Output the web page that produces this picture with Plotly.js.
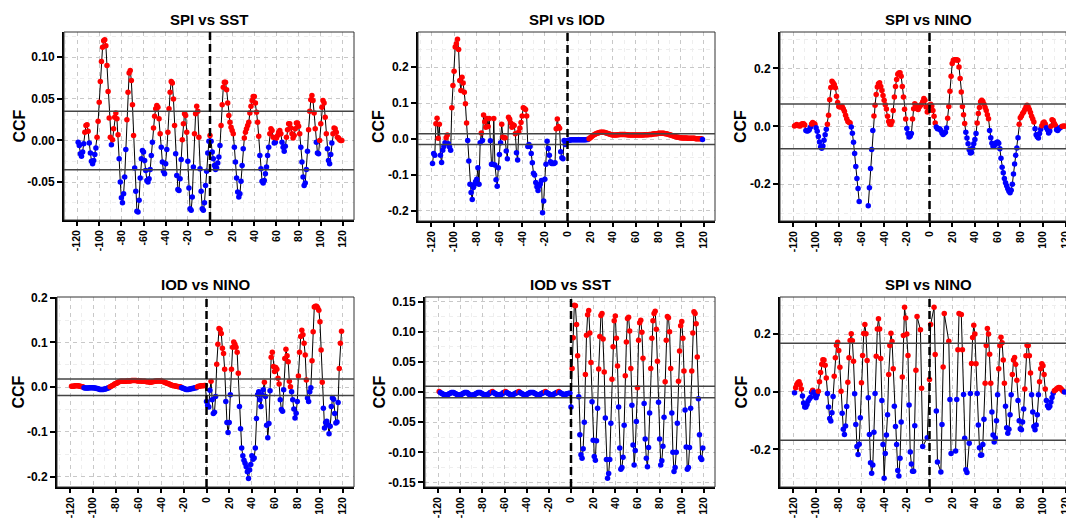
<!DOCTYPE html>
<html><head><meta charset="utf-8">
<script src="https://cdn.plot.ly/plotly-3.0.1.min.js"></script>
<style>html,body{margin:0;padding:0;overflow:hidden;background:#fff}#chart{width:1080px;height:519px}</style>
</head><body><div id="chart"></div>
<script>
// ---------------- DATA ----------------
const lags = []; for (let k = -119; k <= 119; k++) lags.push(k);
const panelTitles = ['SPI vs SST', 'SPI vs IOD', 'SPI vs NINO', 'IOD vs NINO', 'IOD vs SST', 'SPI vs NINO'];
const confLimits = [0.0352, 0.0148, 0.0775, 0.0185, 0.0094, 0.168];
const xTickVals = [-120, -100, -80, -60, -40, -20, 0, 20, 40, 60, 80, 100, 120];
const xTickText = ['-120', '-100', '-80', '-60', '-40', '-20', '0', '20', '40', '60', '80', '100', '120'];
const yTickVals = [
  [-0.05, 0, 0.05, 0.10],
  [-0.2, -0.1, 0, 0.1, 0.2],
  [-0.2, 0, 0.2],
  [-0.2, -0.1, 0, 0.1, 0.2],
  [-0.15, -0.10, -0.05, 0, 0.05, 0.10, 0.15],
  [-0.2, 0, 0.2]
];
const yTickText = [
  ['-0.05', '0.00', '0.05', '0.10'],
  ['-0.2', '-0.1', '0.0', '0.1', '0.2'],
  ['-0.2', '0.0', '0.2'],
  ['-0.2', '-0.1', '0.0', '0.1', '0.2'],
  ['-0.15', '-0.10', '-0.05', '0.00', '0.05', '0.10', '0.15'],
  ['-0.2', '0.0', '0.2']
];
const yMinorVals = [
  [-0.075, -0.025, 0.025, 0.075, 0.125],
  [-0.15, -0.05, 0.05, 0.15, 0.25],
  [-0.3, -0.1, 0.1, 0.3],
  [-0.15, -0.05, 0.05, 0.15],
  [-0.125, -0.075, -0.025, 0.025, 0.075, 0.125],
  [-0.3, -0.1, 0.1, 0.3]
];

const spiSst = [
-0.002,-0.006,-0.016,-0.019,-0.014,-0.004,0.010,0.018,0.019,0.011,
-0.003,-0.015,-0.025,-0.028,-0.024,-0.017,-0.009,0.004,0.023,0.046,
0.071,0.095,0.112,0.120,0.121,0.114,0.090,0.059,0.027,0.004,
-0.005,0.001,0.014,0.028,0.033,0.026,0.007,-0.022,-0.050,-0.069,
-0.075,-0.064,-0.044,-0.011,0.025,0.058,0.081,0.084,0.072,0.043,
0.006,-0.033,-0.061,-0.085,-0.086,-0.072,-0.045,-0.022,-0.012,-0.014,
-0.024,-0.036,-0.048,-0.050,-0.046,-0.035,-0.018,-0.002,0.015,0.029,
0.038,0.042,0.040,0.026,0.008,-0.008,-0.026,-0.037,-0.040,-0.028,
-0.011,0.010,0.038,0.058,0.071,0.069,0.050,0.018,-0.016,-0.042,
-0.059,-0.060,-0.046,-0.023,0.001,0.020,0.032,0.030,0.010,-0.025,
-0.057,-0.082,-0.084,-0.068,-0.032,0.008,0.032,0.041,0.035,0.004,
-0.034,-0.061,-0.082,-0.084,-0.075,-0.054,-0.037,-0.015,-0.001,0.006,
-0.001,-0.014,-0.022,-0.030,-0.035,-0.033,-0.027,-0.020,-0.006,0.018,
0.043,0.064,0.070,0.070,0.061,0.045,0.030,0.022,0.016,0.012,
0.008,-0.008,-0.026,-0.045,-0.062,-0.068,-0.064,-0.049,-0.030,-0.010,
0.003,0.010,0.014,0.018,0.022,0.033,0.041,0.048,0.053,0.053,
0.045,0.034,0.022,0.005,-0.018,-0.034,-0.049,-0.051,-0.048,-0.040,
-0.032,-0.018,-0.008,0.008,0.014,0.012,0.004,-0.003,-0.002,0.003,
0.006,0.010,0.012,0.008,-0.002,-0.008,-0.013,-0.007,0.004,0.013,
0.020,0.020,0.015,0.008,0.003,0.006,0.014,0.021,0.021,0.017,
0.008,-0.008,-0.026,-0.044,-0.054,-0.051,-0.035,-0.013,0.013,0.035,
0.049,0.054,0.048,0.033,0.014,-0.002,-0.015,-0.016,0.000,0.020,
0.040,0.048,0.045,0.028,0.008,-0.010,-0.024,-0.028,-0.017,-0.003,
0.008,0.015,0.014,0.010,0.004,0.003,0.001,0.000,0.000
];

const spiIod = [
-0.068,-0.040,-0.045,0.043,0.058,0.002,0.041,-0.045,-0.065,-0.031,
-0.021,-0.010,0.004,0.011,-0.013,-0.022,-0.031,0.087,0.149,0.189,
0.256,0.265,0.278,0.249,0.163,0.135,0.172,0.156,0.130,0.098,
0.045,-0.004,-0.061,-0.126,-0.149,-0.168,-0.135,-0.126,-0.118,-0.112,
-0.080,-0.126,-0.010,0.017,-0.004,0.067,0.048,0.033,0.057,0.035,
0.057,-0.005,-0.070,-0.070,0.057,-0.072,-0.113,-0.131,-0.080,-0.043,
-0.010,0.041,0.006,0.004,0.004,-0.033,-0.055,0.061,0.055,0.045,
0.033,0.040,0.038,0.015,-0.038,-0.058,0.020,0.031,0.046,0.064,
0.087,0.085,0.082,0.064,-0.021,-0.015,-0.021,-0.040,-0.066,-0.095,
-0.100,-0.121,-0.133,-0.143,-0.131,-0.125,-0.115,-0.205,-0.172,-0.112,
-0.070,-0.006,-0.026,-0.045,-0.063,-0.068,-0.068,-0.068,-0.066,0.029,
0.056,0.035,0.030,-0.035,-0.052,-0.055,-0.004,-0.015,-0.006,-0.004,
-0.003,-0.003,-0.002,-0.002,-0.002,-0.002,-0.002,-0.002,-0.002,-0.002,
-0.002,-0.002,-0.002,-0.002,-0.002,-0.002,-0.001,-0.001,0.001,0.004,
0.006,0.009,0.011,0.013,0.015,0.016,0.017,0.018,0.019,0.019,
0.019,0.019,0.018,0.017,0.016,0.015,0.014,0.013,0.012,0.011,
0.011,0.011,0.011,0.012,0.012,0.013,0.013,0.013,0.013,0.013,
0.013,0.012,0.012,0.011,0.011,0.011,0.011,0.011,0.011,0.011,
0.011,0.011,0.011,0.011,0.011,0.011,0.011,0.012,0.012,0.012,
0.012,0.013,0.013,0.013,0.014,0.014,0.015,0.015,0.015,0.016,
0.016,0.016,0.016,0.016,0.016,0.015,0.015,0.014,0.013,0.012,
0.011,0.010,0.009,0.008,0.007,0.006,0.005,0.005,0.004,0.004,
0.003,0.003,0.003,0.003,0.003,0.002,0.002,0.002,0.002,0.002,
0.002,0.002,0.001,0.001,0.001,0.001,0.001,0.001,-0.001
];

const spiNino = [
0.001,0.004,0.006,0.003,0.002,0.001,0.007,0.009,0.009,0.005,
-0.014,-0.016,-0.015,-0.012,-0.003,0.008,0.013,0.010,0.007,-0.005,
-0.017,-0.035,-0.054,-0.071,-0.076,-0.068,-0.048,-0.029,-0.010,0.007,
0.038,0.092,0.134,0.156,0.151,0.145,0.133,0.104,0.082,0.069,
0.067,0.068,0.069,0.061,0.052,0.038,0.026,0.017,0.014,0.012,
-0.002,-0.024,-0.055,-0.094,-0.139,-0.180,-0.215,-0.260,null,null,
null,null,null,null,null,-0.274,-0.212,-0.146,-0.080,-0.014,
0.036,0.073,0.110,0.136,0.147,0.151,0.138,0.124,0.107,0.090,
0.075,0.060,0.035,0.017,0.007,0.006,0.017,0.055,0.101,0.138,
0.162,0.180,0.184,0.185,0.173,0.138,0.101,0.059,0.025,-0.007,
-0.025,-0.037,-0.033,-0.025,0.025,0.061,0.078,0.073,0.061,0.058,
0.067,0.072,0.076,0.085,0.096,0.090,0.067,0.050,0.069,0.073,
0.076,0.070,0.055,0.035,0.012,-0.002,-0.008,-0.008,-0.009,-0.014,
-0.023,-0.028,-0.024,-0.020,-0.006,0.028,0.069,0.121,0.173,0.217,
0.228,0.230,0.230,0.230,0.228,0.205,0.165,0.119,0.069,0.040,
0.010,-0.020,-0.040,-0.060,-0.081,-0.092,-0.090,-0.075,-0.060,-0.045,
-0.025,0.012,0.044,0.065,0.085,0.090,0.086,0.076,0.065,0.055,
0.040,0.026,-0.014,-0.039,-0.058,-0.069,-0.068,-0.062,-0.056,-0.054,
-0.058,-0.077,-0.110,-0.141,-0.160,-0.180,-0.195,-0.205,-0.216,-0.224,
-0.229,-0.221,-0.200,-0.165,-0.130,-0.100,-0.075,-0.039,0.007,0.030,
0.036,0.044,0.050,0.058,0.067,0.073,0.067,0.058,0.048,0.035,
0.025,0.015,-0.008,-0.029,-0.036,-0.040,-0.025,-0.010,0.002,0.012,
0.015,0.008,-0.005,-0.012,-0.023,-0.016,0.000,0.023,0.020,0.010,
0.003,-0.012,-0.014,-0.008,-0.005,-0.002,0.000,0.000,0.001
];

const iodNino = [
0.002,0.002,0.002,0.003,0.003,0.003,0.003,0.002,0.002,0.001,
0.001,-0.001,-0.002,-0.002,-0.002,-0.002,-0.001,-0.001,-0.001,-0.001,
-0.002,-0.002,-0.003,-0.003,-0.004,-0.005,-0.005,-0.005,-0.005,-0.004,
-0.004,-0.003,-0.002,-0.001,0.001,0.002,0.004,0.005,0.007,0.008,
0.009,0.011,0.012,0.013,0.013,0.013,0.013,0.013,0.013,0.014,
0.014,0.014,0.014,0.015,0.015,0.015,0.015,0.015,0.014,0.014,
0.014,0.014,0.013,0.013,0.013,0.013,0.012,0.012,0.012,0.011,
0.011,0.012,0.012,0.013,0.013,0.014,0.014,0.014,0.014,0.014,
0.013,0.012,0.011,0.010,0.009,0.008,0.007,0.006,0.005,0.004,
0.003,0.003,0.002,0.002,0.001,0.001,0.001,-0.001,-0.002,-0.003,
-0.004,-0.005,-0.005,-0.005,-0.004,-0.004,-0.003,-0.003,-0.002,-0.001,
-0.001,0.001,0.002,0.002,0.003,0.003,0.003,0.004,0.004,-0.032,
-0.041,-0.044,-0.007,0.013,-0.028,-0.059,-0.056,-0.021,0.051,0.096,
0.131,0.129,0.120,0.087,0.075,0.040,-0.032,-0.079,-0.101,-0.079,
-0.017,0.040,0.089,0.101,0.096,0.089,0.078,0.031,-0.043,-0.093,
-0.136,-0.153,-0.163,-0.170,-0.178,-0.189,-0.204,-0.185,-0.173,-0.153,
-0.161,-0.158,-0.136,-0.070,-0.017,-0.010,-0.028,-0.043,-0.017,-0.006,
0.011,-0.021,-0.085,-0.113,-0.081,-0.008,0.067,0.078,0.046,0.035,
0.044,0.040,0.020,0.007,-0.028,-0.050,-0.054,-0.006,0.064,0.085,
0.070,0.057,0.013,0.001,-0.010,-0.028,-0.049,-0.069,-0.058,-0.032,
0.025,0.078,0.113,0.127,0.117,0.098,0.072,0.016,-0.024,-0.032,
-0.010,-0.001,0.059,0.124,0.179,0.181,0.181,0.177,0.172,0.146,
0.083,0.011,-0.047,-0.091,-0.079,-0.076,-0.084,-0.104,-0.087,-0.043,
-0.024,-0.027,-0.059,-0.080,-0.078,-0.034,0.042,0.098,0.125
];

const iodSst = [
0.001,-0.001,-0.002,-0.003,-0.004,-0.005,-0.005,-0.005,-0.004,-0.003,-0.002,-0.001,
-0.001,-0.001,-0.002,-0.003,-0.004,-0.005,-0.005,-0.005,-0.004,-0.003,-0.002,-0.001,
-0.001,-0.001,-0.002,-0.004,-0.005,-0.006,-0.005,-0.005,-0.004,-0.003,-0.002,-0.001,
-0.001,-0.001,-0.002,-0.003,-0.004,-0.005,-0.005,-0.004,-0.004,-0.003,-0.001,-0.001,
0.001,-0.001,-0.002,-0.003,-0.004,-0.005,-0.005,-0.004,-0.004,-0.003,-0.001,-0.001,
0.001,-0.001,-0.002,-0.003,-0.004,-0.005,-0.005,-0.004,-0.003,-0.002,-0.001,-0.001,
0.001,-0.001,-0.002,-0.003,-0.004,-0.005,-0.005,-0.004,-0.003,-0.002,-0.001,-0.001,
-0.001,-0.001,-0.002,-0.003,-0.004,-0.005,-0.005,-0.004,-0.003,-0.002,-0.001,-0.001,
0.001,-0.001,-0.002,-0.003,-0.004,-0.005,-0.005,-0.004,-0.003,-0.002,-0.001,-0.001,
0.001,-0.001,-0.002,-0.003,-0.004,-0.004,-0.004,-0.003,-0.003,-0.002,-0.002,
-0.025,
0.039,0.090,0.144,0.143,0.112,0.060,-0.008,-0.071,-0.104,-0.110,
-0.094,-0.050,0.029,0.094,0.128,0.135,0.098,0.049,-0.016,-0.080,
-0.107,-0.113,-0.081,-0.027,0.038,0.092,0.127,0.130,0.088,0.033,
-0.043,-0.112,-0.143,-0.135,-0.112,-0.052,0.021,0.075,0.118,0.126,
0.089,0.043,-0.025,-0.093,-0.128,-0.125,-0.108,-0.055,0.027,0.083,
0.122,0.124,0.101,0.039,-0.022,-0.088,-0.121,-0.097,-0.049,0.007,
0.086,0.115,0.119,0.099,0.056,-0.019,-0.078,-0.110,-0.124,-0.092,
-0.035,0.039,0.089,0.118,0.130,0.134,0.104,0.051,-0.017,-0.078,
-0.121,-0.114,-0.090,-0.042,0.017,0.086,0.125,0.123,0.100,0.039,
-0.035,-0.100,-0.132,-0.125,-0.100,-0.052,0.018,0.068,0.110,0.117,
0.089,0.035,-0.030,-0.091,-0.128,-0.125,-0.092,-0.027,0.035,0.098,
0.133,0.130,0.113,0.058,-0.011,-0.071,-0.109,-0.112,-0.093
];

const spiNino2 = [
-0.003,0.014,0.025,0.031,0.035,0.025,0.010,-0.015,-0.039,-0.053,
-0.053,-0.044,-0.032,-0.025,-0.020,-0.002,0.005,-0.001,-0.015,-0.021,
-0.009,0.002,0.035,0.067,0.095,0.111,0.110,0.092,0.048,-0.006,
-0.053,-0.093,-0.101,-0.073,-0.016,0.054,0.118,0.161,0.172,0.143,
0.085,0.002,-0.074,-0.130,-0.148,-0.119,-0.051,0.033,0.118,0.178,
0.201,0.177,0.106,-0.007,-0.113,-0.190,-0.217,-0.182,-0.090,0.031,
0.126,0.202,0.233,0.201,0.108,-0.021,-0.148,-0.246,-0.282,-0.254,
-0.140,-0.006,0.123,0.218,0.253,0.218,0.115,-0.030,-0.183,-0.300,
-0.214,-0.150,-0.080,0.060,0.160,0.203,0.174,0.080,-0.050,-0.120,
-0.183,-0.273,-0.292,-0.230,-0.105,0.051,0.195,0.293,0.256,0.200,
0.126,-0.046,-0.209,-0.250,-0.275,-0.275,-0.118,0.075,0.261,null,
null,0.215,0.012,-0.190,null,null,null,-0.159,null,0.043,
0.233,null,null,0.293,0.129,-0.067,-0.243,null,null,-0.278,
-0.113,0.086,0.271,null,null,null,0.175,-0.027,-0.214,null,
null,null,-0.205,-0.027,0.146,0.271,null,0.268,0.146,-0.009,
-0.161,-0.270,-0.280,null,-0.178,-0.006,0.098,0.188,0.231,0.200,
0.097,-0.006,-0.115,-0.194,-0.220,-0.219,-0.183,-0.095,0.030,0.160,
0.219,0.200,0.130,0.030,-0.070,-0.150,-0.174,-0.160,-0.100,-0.010,
0.080,0.160,0.189,0.170,0.110,0.030,-0.050,-0.125,-0.144,-0.130,
-0.080,-0.010,0.060,0.110,0.119,0.095,0.040,-0.030,-0.100,-0.128,
-0.132,-0.105,-0.060,0.010,0.125,0.161,0.160,0.125,0.065,-0.010,
-0.070,-0.120,-0.132,-0.115,-0.080,-0.010,0.035,0.080,0.097,0.090,
0.060,0.010,-0.030,-0.048,-0.055,-0.050,-0.035,-0.020,-0.005,0.004,
0.006,0.010,0.013,0.015,0.014,0.010,0.005,0.001,-0.001
];

const seriesList = [spiSst, spiIod, spiNino, iodNino, iodSst, spiNino2];

// ---------------- LAYOUT / STYLE ----------------
const W = 1080, H = 519;
const boxes = [ // plot areas in page pixels: [left, right, top, bottom]
  [64, 354, 32, 220], [418, 715, 32, 221], [780, 1077, 32, 221],
  [57, 354, 297, 487], [425, 715, 297, 487], [780, 1077, 297, 487]
];
const yRanges = [[-0.0956, 0.1304], [-0.228, 0.298], [-0.327, 0.326], [-0.223, 0.2015], [-0.1575, 0.1575], [-0.330, 0.3285]];
const ccfX = [18.5, 378.5, 740.5, 17.5, 378.5, 740.5];
const gapConnect = [false, false, false, false, false, true];
const xMinor = []; for (let v = -130; v <= 130; v += 20) xMinor.push(v);

const FONT = 'Liberation Sans, Arial, Helvetica, sans-serif';
const xTickFont = {family: FONT, size: 10.5, color: '#000', weight: 'bold'};
const yTickFont = {family: FONT, size: 12, color: '#000', weight: 'bold'};

const layout = {
  width: W, height: H, autosize: false,
  margin: {l: 0, r: 0, t: 0, b: 0},
  paper_bgcolor: '#fff', plot_bgcolor: '#fff',
  showlegend: false, hovermode: false,
  font: {family: FONT, color: '#000'},
  shapes: [], annotations: []
};
const traces = [];

for (let i = 0; i < 6; i++) {
  const n = i + 1;
  const xa = 'xaxis' + (n === 1 ? '' : n), ya = 'yaxis' + (n === 1 ? '' : n);
  const xr = 'x' + (n === 1 ? '' : n), yr = 'y' + (n === 1 ? '' : n);
  const [l, r, t, b] = boxes[i];
  layout[xa] = {
    domain: [l / W, r / W], anchor: yr, range: [-131.8, 130],
    tickmode: 'array', tickvals: xTickVals, ticktext: xTickText, tickangle: -90,
    ticks: 'outside', ticklen: 4, tickwidth: 2, tickcolor: '#000', tickfont: xTickFont,
    showline: true, linecolor: '#000', linewidth: 2, mirror: false,
    showgrid: true, gridcolor: '#c8c8c8', gridwidth: 1, griddash: '4px,4px',
    minor: {tickmode: 'array', tickvals: xMinor, showgrid: true, gridcolor: '#eeeeee', gridwidth: 1, ticks: ''},
    zeroline: false, fixedrange: true
  };
  layout[ya] = {
    domain: [1 - b / H, 1 - t / H], anchor: xr, range: yRanges[i],
    tickmode: 'array', tickvals: yTickVals[i], ticktext: yTickText[i],
    ticks: 'outside', ticklen: 5, tickwidth: 2, tickcolor: '#000', tickfont: yTickFont,
    showline: true, linecolor: '#000', linewidth: 2, mirror: false,
    showgrid: true, gridcolor: '#c8c8c8', gridwidth: 1, griddash: '4px,4px',
    minor: {tickmode: 'array', tickvals: yMinorVals[i], showgrid: true, gridcolor: '#eeeeee', gridwidth: 1, ticks: ''},
    zeroline: false, fixedrange: true
  };
  const vals = seriesList[i];
  traces.push({
    type: 'scatter', mode: 'lines+markers', x: lags, y: vals,
    xaxis: xr, yaxis: yr, connectgaps: gapConnect[i], cliponaxis: true,
    line: {color: '#000', width: 1},
    marker: {size: 5.5, color: vals.map(v => (v === null ? '#000' : (v >= 0 ? '#ff0000' : '#0000ff'))), line: {width: 0}},
    hoverinfo: 'skip'
  });
  layout.shapes.push({type: 'rect', xref: xr + ' domain', yref: yr + ' domain', x0: 0, x1: 1, y0: 0, y1: 1,
    line: {color: '#333', width: 1}, fillcolor: 'rgba(0,0,0,0)', layer: 'above'});
  [confLimits[i], -confLimits[i]].forEach(c => layout.shapes.push({
    type: 'line', xref: xr + ' domain', yref: yr, x0: 0, x1: 1, y0: c, y1: c,
    line: {color: '#444', width: 1.5}, layer: 'above'}));
  layout.shapes.push({type: 'line', xref: xr, yref: yr + ' domain', x0: 0, x1: 0, y0: 0, y1: 1,
    line: {color: '#000', width: 2.5, dash: '8px,4px'}, layer: 'above'});
  layout.annotations.push({text: panelTitles[i], xref: 'paper', yref: 'paper',
    x: ((l + r) / 2) / W, y: 1 - (t - 12.5) / H, xanchor: 'center', yanchor: 'middle', showarrow: false,
    font: {family: FONT, size: 15, color: '#000', weight: 'bold'}});
  layout.annotations.push({text: 'CCF', xref: 'paper', yref: 'paper', textangle: -90,
    x: ccfX[i] / W, y: 1 - ((t + b) / 2) / H, xanchor: 'center', yanchor: 'middle', showarrow: false,
    font: {family: FONT, size: 16, color: '#000', weight: 'bold'}});
}

Plotly.newPlot('chart', traces, layout, {staticPlot: true, displayModeBar: false});
</script></body></html>
